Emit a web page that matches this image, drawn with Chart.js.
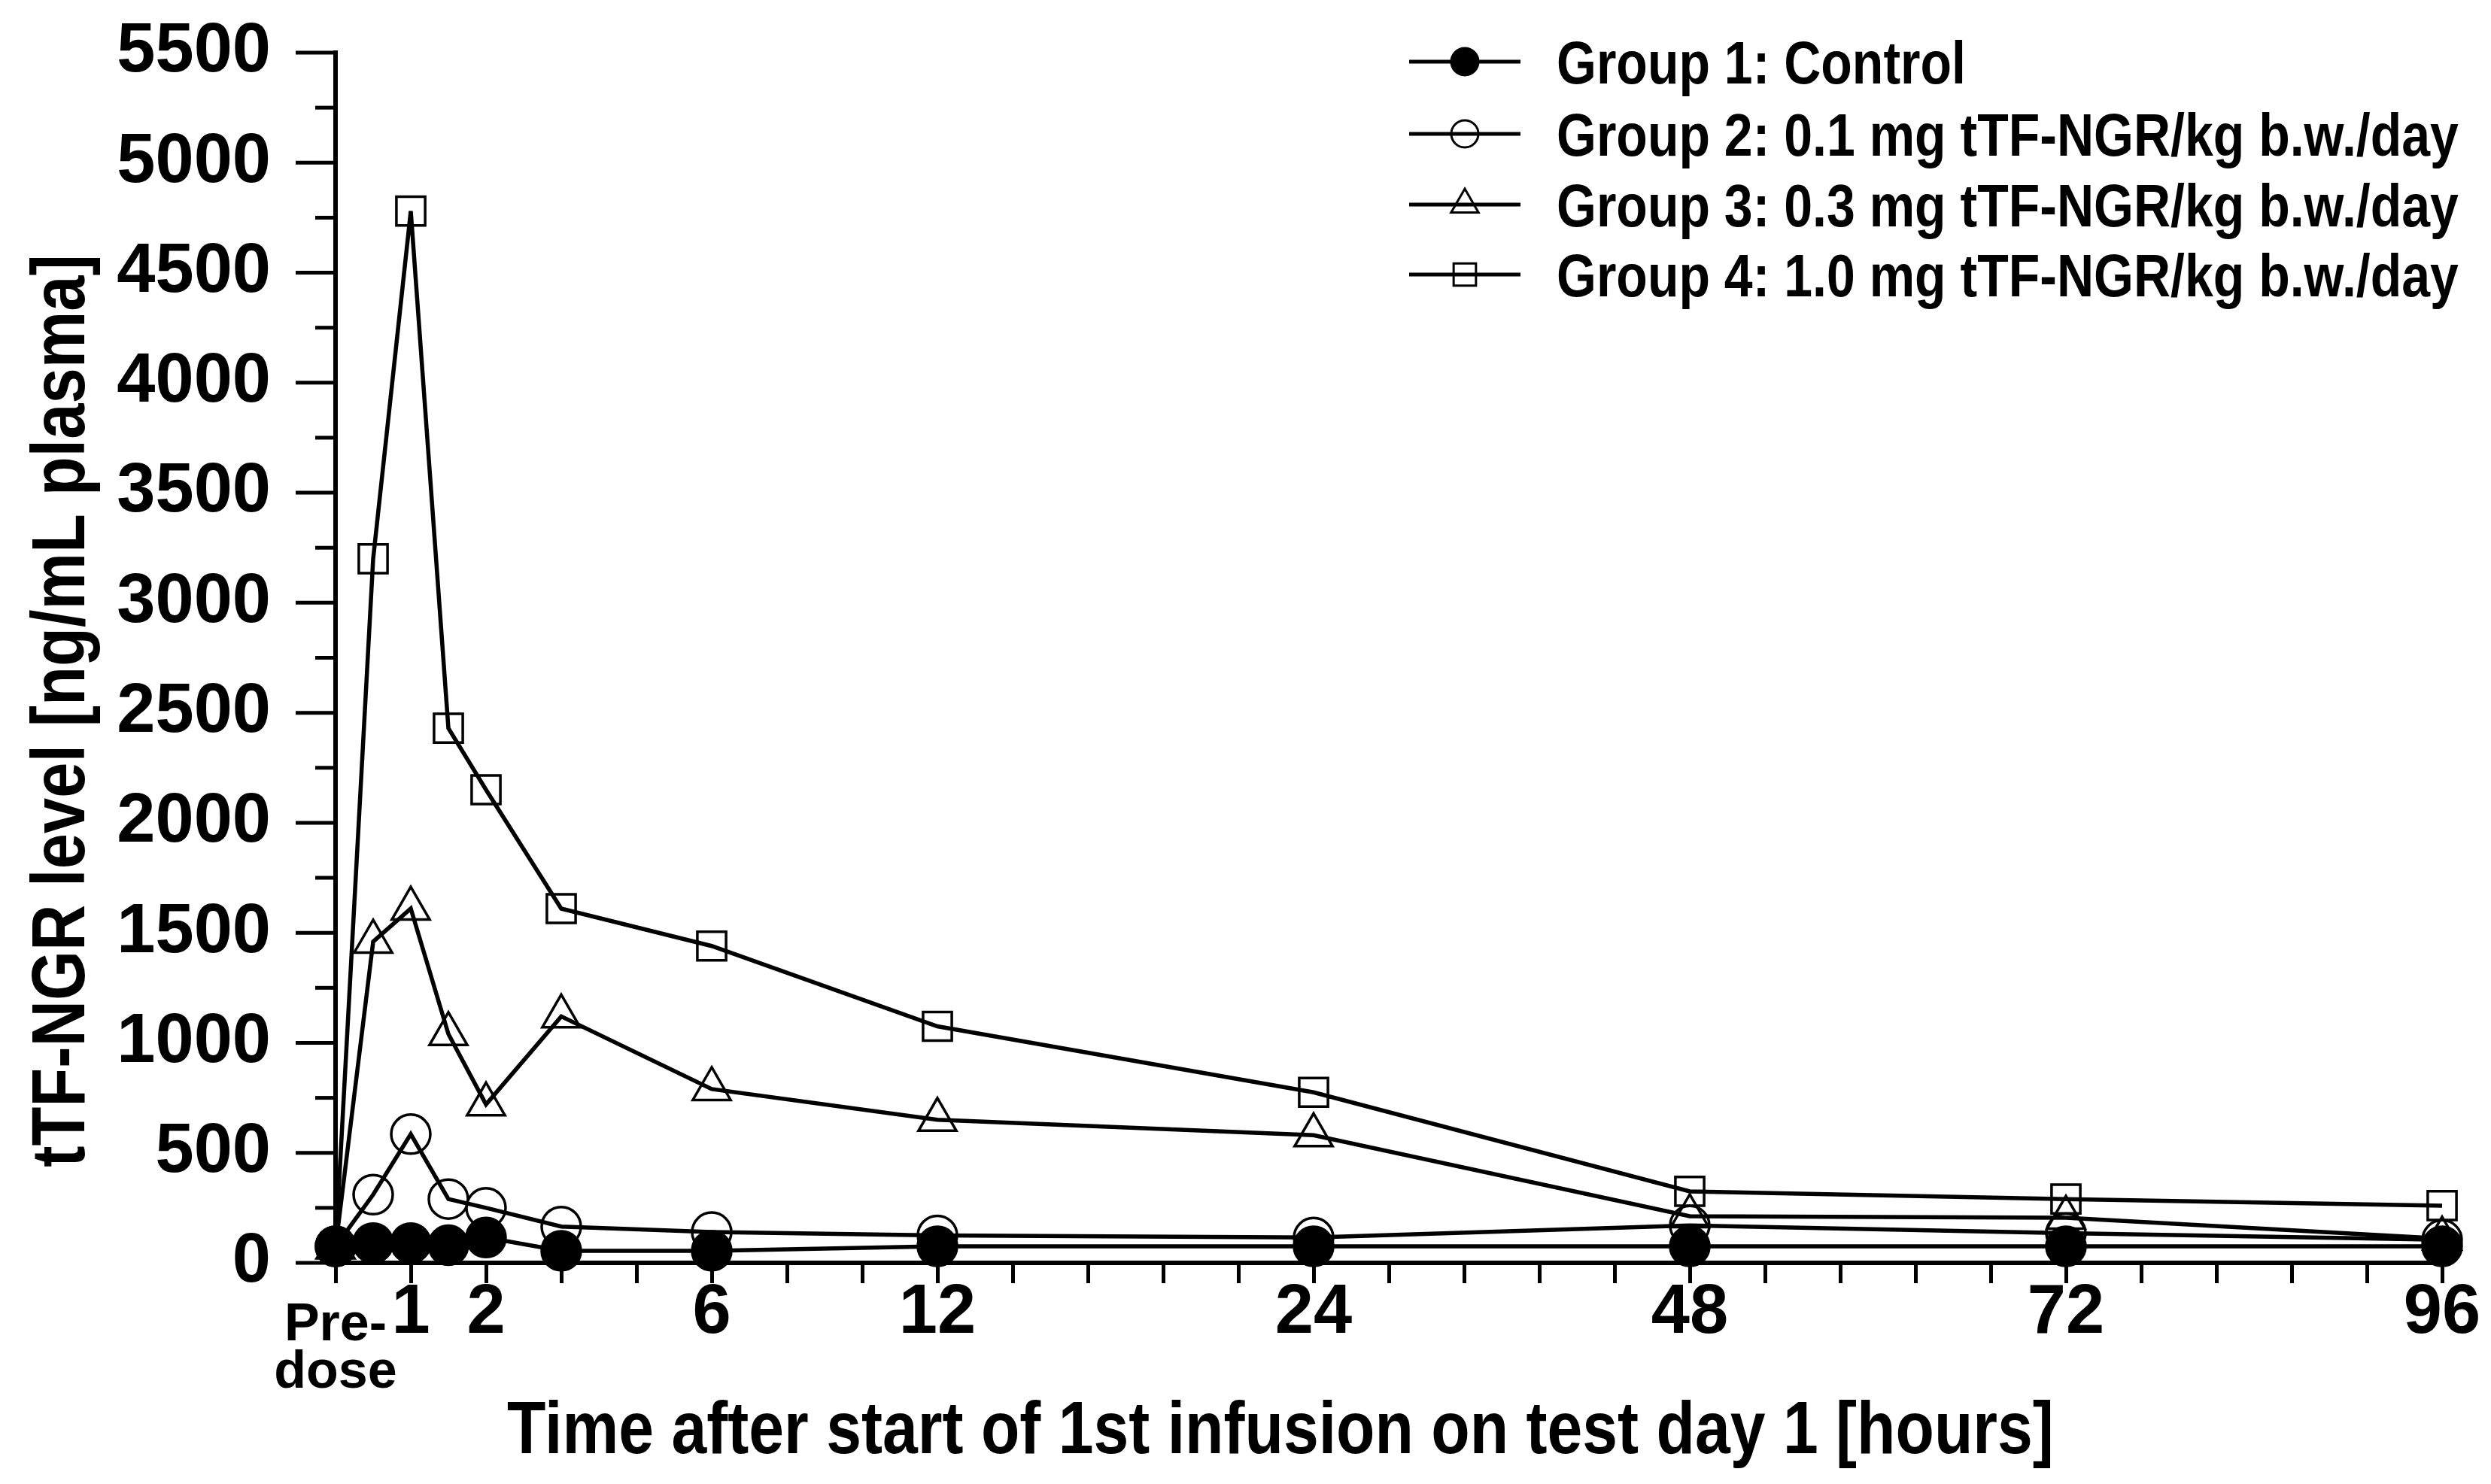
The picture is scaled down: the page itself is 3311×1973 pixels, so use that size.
<!DOCTYPE html>
<html>
<head>
<meta charset="utf-8">
<title>tTF-NGR plasma levels</title>
<script src="https://cdn.jsdelivr.net/npm/chart.js@4.4.1/dist/chart.umd.min.js"></script>
<style>
  html, body { margin: 0; padding: 0; background: #fff; }
  #wrap { width: 3311px; height: 1973px; }
</style>
</head>
<body>
<div id="wrap"><canvas id="pkChart" width="3311" height="1973"></canvas></div>
<script>
// sampling times in hours (0 = pre-dose)
const sampleHours = [0, 0.5, 1, 1.5, 2, 4, 6, 12, 24, 48, 72, 96];

// tTF-NGR level [ng/mL plasma] per group
const group1 = [75, 90, 90, 80, 115, 55, 55, 75, 75, 75, 75, 75];
const group2 = [75, 310, 585, 290, 250, 165, 140, 125, 115, 170, 135, 105];
const group3 = [70, 1460, 1610, 1040, 720, 1120, 790, 650, 580, 212, 205, 110];
const group4 = [70, 3200, 4780, 2430, 2150, 1610, 1440, 1075, 775, 325, 290, 260];

const seriesLabels = [
    "Group 1: Control",
    "Group 2: 0.1 mg tTF-NGR/kg b.w./day",
    "Group 3: 0.3 mg tTF-NGR/kg b.w./day",
    "Group 4: 1.0 mg tTF-NGR/kg b.w./day"
];

// labelled hours on the time axis
const tickHours = [0, 1, 2, 6, 12, 24, 48, 72, 96];
const tickLabels = [["Pre-", "dose"], "1", "2", "6", "12", "24", "48", "72", "96"];

const yMax = 5500;
const yStep = 250;
const yLabelStep = 500;

const xTitleText = "Time after start of 1st infusion on test day 1 [hours]";
const yTitleText = "tTF-NGR level [ng/mL plasma]";

// the time axis is broken: these knots map hours onto evenly ticked axis units
const knotHours = [0, 1, 2, 4, 6, 12, 24, 48, 72, 96];
const knotUnits = [0, 1, 2, 3, 5, 8, 13, 18, 23, 28];

function hoursToUnits(h) {
    for (let i = 1; i < knotHours.length; i++) {
        if (h <= knotHours[i]) {
            const t = (h - knotHours[i - 1]) / (knotHours[i] - knotHours[i - 1]);
            return knotUnits[i - 1] + t * (knotUnits[i] - knotUnits[i - 1]);
        }
    }
    return knotUnits[knotUnits.length - 1];
}

// the original uses a condensed bold face; use one if installed, else squeeze Liberation Sans
function fontInstalled(name) {
    const c = document.createElement("canvas").getContext("2d");
    const sample = "Group 0.1 mg tTF-NGR";
    c.font = "bold 100px monospace";
    const a = c.measureText(sample).width;
    c.font = `bold 100px '${name}', monospace`;
    return Math.abs(c.measureText(sample).width - a) > 1;
}
const narrowFace = ["Liberation Sans Narrow", "Arial Narrow", "Nimbus Sans Narrow"].find(fontInstalled);
const family = narrowFace ? `'${narrowFace}', sans-serif` : "'Liberation Sans', Arial, sans-serif";
const squeeze = narrowFace ? 1 : 0.85;
const tickSize = narrowFace ? 100 : 92;
const predoseSize = narrowFace ? 80 : 70;

const tickFont = { family, size: tickSize, weight: "bold", lineHeight: 31 / tickSize };
const predoseFont = { family, size: predoseSize, weight: "bold", lineHeight: 63 / predoseSize };

function drawSqueezed(ctx, text, x, y, size, align, rotation) {
    ctx.save();
    ctx.translate(x, y);
    ctx.rotate(rotation || 0);
    ctx.scale(squeeze, 1);
    ctx.font = `bold ${size}px ${family}`;
    ctx.fillStyle = "#000";
    ctx.textAlign = align;
    ctx.textBaseline = "alphabetic";
    ctx.fillText(text, 0, 0);
    ctx.restore();
}

function series(label, values, style, filled, radius) {
    return {
        label,
        data: sampleHours.map((h, i) => ({ x: hoursToUnits(h), y: values[i] })),
        borderColor: "#000",
        borderWidth: 5.5,
        pointStyle: style,
        pointRadius: radius,
        pointHoverRadius: radius,
        pointBorderWidth: 3.5,
        pointBorderColor: "#000",
        pointBackgroundColor: filled ? "#000" : "rgba(0,0,0,0)",
        tension: 0,
        fill: false,
        clip: false
    };
}

const datasets = [
    series(seriesLabels[0], group1, "circle", true, 26),
    series(seriesLabels[1], group2, "circle", false, 26),
    series(seriesLabels[2], group3, "triangle", false, 29),
    series(seriesLabels[3], group4, "rect", false, 27)
];

// long ticks at labelled values, short ticks in between
const yAxisTicks = {
    id: "yAxisTicks",
    afterDraw(chart) {
        const scale = chart.scales.y;
        const ctx = chart.ctx;
        ctx.save();
        ctx.strokeStyle = "#000";
        ctx.lineWidth = 5;
        scale.ticks.forEach(t => {
            const py = scale.getPixelForValue(t.value);
            const len = t.value % yLabelStep === 0 ? 53 : 27;
            ctx.beginPath();
            ctx.moveTo(scale.right - len, py);
            ctx.lineTo(scale.right, py);
            ctx.stroke();
        });
        ctx.restore();
    }
};

// legend: a short line with the marker on it, then the label
const lineLegend = {
    id: "lineLegend",
    afterDraw(chart) {
        const ctx = chart.ctx;
        const rows = [82, 178, 272, 365];
        const legendRadius = [18, 18, 21, 21];
        chart.data.datasets.forEach((ds, i) => {
            const y = rows[i];
            ctx.save();
            ctx.strokeStyle = "#000";
            ctx.lineWidth = 5;
            ctx.beginPath();
            ctx.moveTo(1873, y);
            ctx.lineTo(2021, y);
            ctx.stroke();
            ctx.fillStyle = ds.pointBackgroundColor;
            ctx.lineWidth = 3;
            Chart.helpers.drawPoint(ctx, {
                pointStyle: ds.pointStyle,
                radius: legendRadius[i],
                rotation: 0,
                borderWidth: 3
            }, 1947, y);
            ctx.restore();
            drawSqueezed(ctx, ds.label, 2069, y + 29, 80, "left", 0);
        });
    }
};

const axisTitles = {
    id: "axisTitles",
    afterDraw(chart) {
        const ctx = chart.ctx;
        drawSqueezed(ctx, xTitleText, 1702, 1932, 99, "center", 0);
        drawSqueezed(ctx, yTitleText, 112, 945, 100, "center", -Math.PI / 2);
    }
};

new Chart(document.getElementById("pkChart"), {
    type: "line",
    data: { datasets },
    options: {
        responsive: false,
        animation: false,
        devicePixelRatio: 1,
        layout: { padding: { top: 70, right: 65, bottom: 0, left: 0 } },
        plugins: {
            legend: { display: false },
            tooltip: { enabled: false }
        },
        scales: {
            x: {
                type: "linear",
                min: 0,
                max: hoursToUnits(96),
                afterFit: scale => {
                    scale.height = 294;
                    scale.paddingLeft = 0;
                    scale.paddingRight = 0;
                },
                border: { display: true, color: "#000", width: 6 },
                grid: {
                    display: true,
                    drawOnChartArea: false,
                    drawTicks: true,
                    tickLength: 27,
                    tickWidth: 5,
                    tickColor: "#000"
                },
                ticks: {
                    stepSize: 1,
                    autoSkip: false,
                    maxRotation: 0,
                    padding: 25,
                    color: "#000",
                    font: ctx => (ctx.tick && ctx.tick.value === 0 ? predoseFont : tickFont),
                    callback: value => {
                        const i = tickHours.findIndex(h => Math.abs(hoursToUnits(h) - value) < 1e-6);
                        return i >= 0 ? tickLabels[i] : "";
                    }
                }
            },
            y: {
                min: 0,
                max: yMax,
                afterFit: scale => {
                    scale.width = 446;
                    scale.paddingTop = 0;
                    scale.paddingBottom = 0;
                },
                border: { display: true, color: "#000", width: 6 },
                grid: { display: true, drawOnChartArea: false, drawTicks: false },
                ticks: {
                    stepSize: yStep,
                    autoSkip: false,
                    padding: 86,
                    color: "#000",
                    font: { family, size: tickSize, weight: "bold", lineHeight: 1 },
                    callback: value => (value % yLabelStep === 0 ? value : "")
                }
            }
        }
    },
    plugins: [yAxisTicks, lineLegend, axisTitles]
});
</script>
</body>
</html>
